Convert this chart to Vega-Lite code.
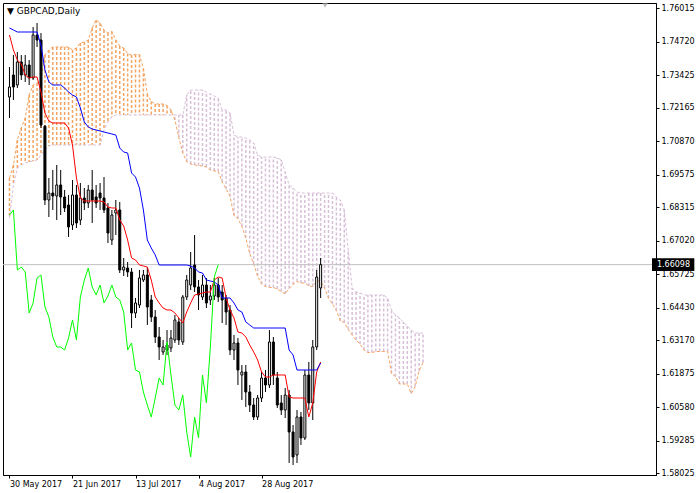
{
"$schema": "https://vega.github.io/schema/vega-lite/v6.json",
"width": 653, "height": 472,
"autosize": {"type": "none"},
"padding": {"left": 3, "top": 3, "right": 44, "bottom": 18},
"background": "white",
"config": {"view": {"stroke": "black", "strokeWidth": 1}, "axis": {"labelOverlap": false, "labelBound": false, "labelFlush": false, "grid": false, "title": null, "tickSize": 3, "tickColor": "black", "domainColor": "black", "labelColor": "black", "labelFont": "DejaVu Sans", "labelFontSize": 8, "labelPadding": 2}},
"title": {"text": "▼ GBPCAD,Daily", "anchor": "start", "frame": "group", "orient": "top", "offset": -8, "dx": 4, "dy": 9, "baseline": "middle", "fontSize": 9, "font": "DejaVu Sans", "fontWeight": "normal", "color": "black"},
"datasets": {
"bars": [
{"i":0,"o":1.72583,"h":1.73744,"l":1.71771,"c":1.72970,"t":1.74982,"k":1.75253},
{"i":1,"o":1.73434,"h":1.74208,"l":1.72467,"c":1.72970,"t":1.74402,"k":1.75175},
{"i":2,"o":1.73048,"h":1.74324,"l":1.72931,"c":1.73937,"t":1.74015,"k":1.75098},
{"i":3,"o":1.73937,"h":1.74208,"l":1.73241,"c":1.73434,"t":1.73860,"k":1.75098},
{"i":4,"o":1.73434,"h":1.74208,"l":1.73164,"c":1.73821,"t":1.73434,"k":1.75098},
{"i":5,"o":1.73821,"h":1.74015,"l":1.73048,"c":1.73318,"t":1.73318,"k":1.75098},
{"i":6,"o":1.73318,"h":1.75291,"l":1.73241,"c":1.74982,"t":1.73357,"k":1.75098},
{"i":7,"o":1.74982,"h":1.75446,"l":1.74518,"c":1.74788,"t":1.73357,"k":1.75098},
{"i":8,"o":1.74788,"h":1.75059,"l":1.71384,"c":1.71500,"t":1.72777,"k":1.74595},
{"i":9,"o":1.71450,"h":1.71500,"l":1.68405,"c":1.68598,"t":1.71964,"k":1.73628},
{"i":10,"o":1.68598,"h":1.69450,"l":1.67941,"c":1.68869,"t":1.71655,"k":1.73164},
{"i":11,"o":1.68869,"h":1.69759,"l":1.68212,"c":1.68753,"t":1.71577,"k":1.73048},
{"i":12,"o":1.68753,"h":1.69952,"l":1.67825,"c":1.69179,"t":1.71577,"k":1.73048},
{"i":13,"o":1.69179,"h":1.69759,"l":1.68018,"c":1.68714,"t":1.71577,"k":1.73048},
{"i":14,"o":1.68714,"h":1.68985,"l":1.68134,"c":1.68289,"t":1.71577,"k":1.72931},
{"i":15,"o":1.68405,"h":1.68792,"l":1.67167,"c":1.67554,"t":1.71384,"k":1.72777},
{"i":16,"o":1.67631,"h":1.69372,"l":1.67438,"c":1.68792,"t":1.70726,"k":1.72661},
{"i":17,"o":1.68792,"h":1.69179,"l":1.67515,"c":1.67709,"t":1.69450,"k":1.72583},
{"i":18,"o":1.67825,"h":1.69256,"l":1.67631,"c":1.68676,"t":1.68676,"k":1.72158},
{"i":19,"o":1.68676,"h":1.69063,"l":1.68212,"c":1.68482,"t":1.68560,"k":1.71616},
{"i":20,"o":1.68482,"h":1.69179,"l":1.68289,"c":1.68985,"t":1.68560,"k":1.71423},
{"i":21,"o":1.68985,"h":1.69759,"l":1.67709,"c":1.68598,"t":1.68560,"k":1.71345},
{"i":22,"o":1.68714,"h":1.69179,"l":1.68289,"c":1.68482,"t":1.68560,"k":1.71307},
{"i":23,"o":1.68869,"h":1.69256,"l":1.68212,"c":1.68676,"t":1.68560,"k":1.71268},
{"i":24,"o":1.68676,"h":1.69488,"l":1.68095,"c":1.68212,"t":1.68521,"k":1.71229},
{"i":25,"o":1.68289,"h":1.68482,"l":1.66935,"c":1.67322,"t":1.68328,"k":1.71190},
{"i":26,"o":1.67051,"h":1.68212,"l":1.66857,"c":1.68018,"t":1.68289,"k":1.71152},
{"i":27,"o":1.68095,"h":1.68598,"l":1.67244,"c":1.68212,"t":1.68289,"k":1.71113},
{"i":28,"o":1.68212,"h":1.68521,"l":1.65774,"c":1.65890,"t":1.67825,"k":1.70610},
{"i":29,"o":1.65890,"h":1.66354,"l":1.65658,"c":1.66006,"t":1.67593,"k":1.70455},
{"i":30,"o":1.65968,"h":1.66200,"l":1.65619,"c":1.65813,"t":1.67051,"k":1.70417},
{"i":31,"o":1.65813,"h":1.65968,"l":1.63646,"c":1.64227,"t":1.66354,"k":1.69643},
{"i":32,"o":1.64227,"h":1.64807,"l":1.64033,"c":1.64614,"t":1.66277,"k":1.69488},
{"i":33,"o":1.64536,"h":1.65890,"l":1.64420,"c":1.65581,"t":1.66084,"k":1.69063},
{"i":34,"o":1.65503,"h":1.65890,"l":1.65426,"c":1.65697,"t":1.66045,"k":1.68212},
{"i":35,"o":1.65697,"h":1.66006,"l":1.63762,"c":1.64459,"t":1.66006,"k":1.67051},
{"i":36,"o":1.64730,"h":1.64923,"l":1.63879,"c":1.64072,"t":1.65503,"k":1.66741},
{"i":37,"o":1.64072,"h":1.64343,"l":1.63066,"c":1.63298,"t":1.64846,"k":1.66471},
{"i":38,"o":1.63298,"h":1.63685,"l":1.62408,"c":1.62911,"t":1.64614,"k":1.66084},
{"i":39,"o":1.62718,"h":1.63182,"l":1.62602,"c":1.62911,"t":1.64420,"k":1.66084},
{"i":40,"o":1.62989,"h":1.63569,"l":1.62602,"c":1.62795,"t":1.64343,"k":1.66084},
{"i":41,"o":1.62873,"h":1.63569,"l":1.62718,"c":1.63259,"t":1.64343,"k":1.66084},
{"i":42,"o":1.63182,"h":1.64149,"l":1.63066,"c":1.63956,"t":1.64227,"k":1.66084},
{"i":43,"o":1.63879,"h":1.64033,"l":1.62989,"c":1.63182,"t":1.64033,"k":1.66084},
{"i":44,"o":1.63105,"h":1.64923,"l":1.62989,"c":1.64846,"t":1.63840,"k":1.66084},
{"i":45,"o":1.64846,"h":1.65697,"l":1.64730,"c":1.65503,"t":1.64265,"k":1.66084},
{"i":46,"o":1.65310,"h":1.66587,"l":1.65116,"c":1.65968,"t":1.64614,"k":1.66045},
{"i":47,"o":1.66084,"h":1.67244,"l":1.65039,"c":1.65233,"t":1.64923,"k":1.65968},
{"i":48,"o":1.65233,"h":1.65503,"l":1.64343,"c":1.64923,"t":1.64962,"k":1.65813},
{"i":49,"o":1.64846,"h":1.65697,"l":1.64730,"c":1.65310,"t":1.65000,"k":1.65774},
{"i":50,"o":1.65310,"h":1.65581,"l":1.64420,"c":1.64614,"t":1.65039,"k":1.65503},
{"i":51,"o":1.64730,"h":1.65310,"l":1.64536,"c":1.64884,"t":1.65039,"k":1.65465},
{"i":52,"o":1.64884,"h":1.65581,"l":1.64730,"c":1.65310,"t":1.65503,"k":1.65426},
{"i":53,"o":1.65310,"h":1.65581,"l":1.64652,"c":1.64846,"t":1.65619,"k":1.65310},
{"i":54,"o":1.65039,"h":1.65310,"l":1.63840,"c":1.64730,"t":1.65581,"k":1.64807},
{"i":55,"o":1.64807,"h":1.64923,"l":1.63762,"c":1.64265,"t":1.64807,"k":1.64807},
{"i":56,"o":1.64343,"h":1.64536,"l":1.62602,"c":1.62795,"t":1.64343,"k":1.64807},
{"i":57,"o":1.62795,"h":1.63376,"l":1.62408,"c":1.63066,"t":1.64033,"k":1.64614},
{"i":58,"o":1.63066,"h":1.63259,"l":1.61441,"c":1.62021,"t":1.63492,"k":1.64343},
{"i":59,"o":1.61828,"h":1.62215,"l":1.60861,"c":1.61944,"t":1.63453,"k":1.64265},
{"i":60,"o":1.61944,"h":1.62215,"l":1.60590,"c":1.61170,"t":1.63298,"k":1.63879},
{"i":61,"o":1.61170,"h":1.61441,"l":1.60397,"c":1.60667,"t":1.62989,"k":1.63762},
{"i":62,"o":1.60667,"h":1.60938,"l":1.60087,"c":1.60203,"t":1.62718,"k":1.63646},
{"i":63,"o":1.60203,"h":1.61054,"l":1.60087,"c":1.60938,"t":1.62408,"k":1.63646},
{"i":64,"o":1.60938,"h":1.61944,"l":1.60783,"c":1.61712,"t":1.61944,"k":1.63646},
{"i":65,"o":1.61712,"h":1.62021,"l":1.61170,"c":1.61441,"t":1.61751,"k":1.63646},
{"i":66,"o":1.61441,"h":1.63569,"l":1.61325,"c":1.63105,"t":1.61751,"k":1.63646},
{"i":67,"o":1.63105,"h":1.63298,"l":1.61441,"c":1.61828,"t":1.61828,"k":1.63646},
{"i":68,"o":1.61712,"h":1.61944,"l":1.60551,"c":1.60667,"t":1.61828,"k":1.63646},
{"i":69,"o":1.60745,"h":1.61054,"l":1.60280,"c":1.60474,"t":1.61828,"k":1.63646},
{"i":70,"o":1.60474,"h":1.61325,"l":1.60164,"c":1.61054,"t":1.61828,"k":1.63646},
{"i":71,"o":1.61054,"h":1.61248,"l":1.58423,"c":1.59623,"t":1.60977,"k":1.62795},
{"i":72,"o":1.59623,"h":1.59894,"l":1.58346,"c":1.58656,"t":1.60938,"k":1.62602},
{"i":73,"o":1.58733,"h":1.60474,"l":1.58423,"c":1.60203,"t":1.60938,"k":1.62021},
{"i":74,"o":1.60203,"h":1.60397,"l":1.59120,"c":1.59391,"t":1.60938,"k":1.62021},
{"i":75,"o":1.59391,"h":1.62021,"l":1.59313,"c":1.61828,"t":1.60938,"k":1.62021},
{"i":76,"o":1.61828,"h":1.62331,"l":1.60474,"c":1.60745,"t":1.60203,"k":1.62021},
{"i":77,"o":1.60745,"h":1.63182,"l":1.60087,"c":1.62911,"t":1.60745,"k":1.62021},
{"i":78,"o":1.62911,"h":1.65890,"l":1.62795,"c":1.65619,"t":1.61944,"k":1.62021},
{"i":79,"o":1.65194,"h":1.66354,"l":1.64807,"c":1.66098,"t":1.62331,"k":1.62292}
],
"chikou": [
{"i":0,"v":1.68018},{"i":1,"v":1.68212},{"i":2,"v":1.65890},{"i":3,"v":1.66006},{"i":4,"v":1.65813},
{"i":5,"v":1.64227},{"i":6,"v":1.64614},{"i":7,"v":1.65581},{"i":8,"v":1.65697},{"i":9,"v":1.64459},
{"i":10,"v":1.64072},{"i":11,"v":1.63298},{"i":12,"v":1.62911},{"i":13,"v":1.62911},{"i":14,"v":1.62795},
{"i":15,"v":1.63259},{"i":16,"v":1.63956},{"i":17,"v":1.63182},{"i":18,"v":1.64846},{"i":19,"v":1.65503},
{"i":20,"v":1.65968},{"i":21,"v":1.65233},{"i":22,"v":1.64923},{"i":23,"v":1.65310},{"i":24,"v":1.64614},
{"i":25,"v":1.64884},{"i":26,"v":1.65310},{"i":27,"v":1.64846},{"i":28,"v":1.64730},{"i":29,"v":1.64265},
{"i":30,"v":1.62795},{"i":31,"v":1.63066},{"i":32,"v":1.62021},{"i":33,"v":1.61944},{"i":34,"v":1.61170},
{"i":35,"v":1.60667},{"i":36,"v":1.60203},{"i":37,"v":1.60938},{"i":38,"v":1.61712},{"i":39,"v":1.61441},
{"i":40,"v":1.63105},{"i":41,"v":1.61828},{"i":42,"v":1.60667},{"i":43,"v":1.60474},{"i":44,"v":1.61054},
{"i":45,"v":1.59623},{"i":46,"v":1.58656},{"i":47,"v":1.60203},{"i":48,"v":1.59391},{"i":49,"v":1.61828},
{"i":50,"v":1.60745},{"i":51,"v":1.62911},{"i":52,"v":1.65619},{"i":53,"v":1.66098}
],
"cloud": [
{"i":0,"a":1.69450,"b":1.67902},{"i":1,"a":1.69952,"b":1.69179},{"i":2,"a":1.70920,"b":1.69836},
{"i":3,"a":1.71384,"b":1.69952},{"i":4,"a":1.71771,"b":1.70030},{"i":5,"a":1.72661,"b":1.70069},
{"i":6,"a":1.73048,"b":1.70107},{"i":7,"a":1.73125,"b":1.70146},{"i":8,"a":1.73241,"b":1.70339},
{"i":9,"a":1.74208,"b":1.70533},{"i":10,"a":1.74402,"b":1.70688},{"i":11,"a":1.74518,"b":1.70726},
{"i":12,"a":1.74518,"b":1.70726},{"i":13,"a":1.74518,"b":1.70726},{"i":14,"a":1.74518,"b":1.70726},
{"i":15,"a":1.74518,"b":1.70726},{"i":16,"a":1.74402,"b":1.70726},{"i":17,"a":1.74479,"b":1.70726},
{"i":18,"a":1.74672,"b":1.70726},{"i":19,"a":1.74711,"b":1.70726},{"i":20,"a":1.74788,"b":1.70726},
{"i":21,"a":1.75253,"b":1.70726},{"i":22,"a":1.75562,"b":1.70726},{"i":23,"a":1.75446,"b":1.70726},
{"i":24,"a":1.75175,"b":1.71307},{"i":25,"a":1.75059,"b":1.71616},{"i":26,"a":1.75118,"b":1.71810},
{"i":27,"a":1.74789,"b":1.71887},{"i":28,"a":1.74557,"b":1.71887},{"i":29,"a":1.74479,"b":1.71887},
{"i":30,"a":1.74266,"b":1.71887},{"i":31,"a":1.74208,"b":1.71887},{"i":32,"a":1.74228,"b":1.71887},
{"i":33,"a":1.74228,"b":1.71887},{"i":34,"a":1.73686,"b":1.71887},{"i":35,"a":1.72700,"b":1.71887},
{"i":36,"a":1.72410,"b":1.71887},{"i":37,"a":1.72313,"b":1.71887},{"i":38,"a":1.72313,"b":1.71887},
{"i":39,"a":1.72313,"b":1.71887},{"i":40,"a":1.72254,"b":1.71887},{"i":41,"a":1.72081,"b":1.71887},
{"i":42,"a":1.71694,"b":1.71887},{"i":43,"a":1.71017,"b":1.71887},{"i":44,"a":1.70417,"b":1.71887},
{"i":45,"a":1.70088,"b":1.72661},{"i":46,"a":1.69992,"b":1.72854},{"i":47,"a":1.69953,"b":1.72854},
{"i":48,"a":1.69934,"b":1.72854},{"i":49,"a":1.69914,"b":1.72854},{"i":50,"a":1.69875,"b":1.72777},
{"i":51,"a":1.69759,"b":1.72699},{"i":52,"a":1.69721,"b":1.72622},{"i":53,"a":1.69701,"b":1.72545},
{"i":54,"a":1.69300,"b":1.72080},{"i":55,"a":1.69024,"b":1.72080},{"i":56,"a":1.68734,"b":1.71964},
{"i":57,"a":1.67999,"b":1.71113},{"i":58,"a":1.67883,"b":1.71036},{"i":59,"a":1.67574,"b":1.71036},
{"i":60,"a":1.67129,"b":1.70997},{"i":61,"a":1.66529,"b":1.70920},{"i":62,"a":1.66122,"b":1.70804},
{"i":63,"a":1.65659,"b":1.70339},{"i":64,"a":1.65349,"b":1.70262},{"i":65,"a":1.65252,"b":1.70262},
{"i":66,"a":1.65214,"b":1.70262},{"i":67,"a":1.65214,"b":1.70262},{"i":68,"a":1.65156,"b":1.70223},
{"i":69,"a":1.65059,"b":1.70146},{"i":70,"a":1.64962,"b":1.69682},{"i":71,"a":1.65175,"b":1.69179},
{"i":72,"a":1.65330,"b":1.69063},{"i":73,"a":1.65446,"b":1.68908},{"i":74,"a":1.65388,"b":1.68869},
{"i":75,"a":1.65387,"b":1.68869},{"i":76,"a":1.65271,"b":1.68869},{"i":77,"a":1.65252,"b":1.68869},
{"i":78,"a":1.65465,"b":1.68869},{"i":79,"a":1.65465,"b":1.68869},{"i":80,"a":1.65194,"b":1.68869},
{"i":81,"a":1.64807,"b":1.68869},{"i":82,"a":1.64575,"b":1.68869},{"i":83,"a":1.64324,"b":1.68714},
{"i":84,"a":1.63918,"b":1.68598},{"i":85,"a":1.63859,"b":1.68212},{"i":86,"a":1.63589,"b":1.66664},
{"i":87,"a":1.63376,"b":1.65194},{"i":88,"a":1.63182,"b":1.65039},{"i":89,"a":1.63027,"b":1.65000},
{"i":90,"a":1.62795,"b":1.64923},{"i":91,"a":1.62699,"b":1.64923},{"i":92,"a":1.62699,"b":1.64923},
{"i":93,"a":1.62737,"b":1.64923},{"i":94,"a":1.62737,"b":1.64923},{"i":95,"a":1.62737,"b":1.64923},
{"i":96,"a":1.62737,"b":1.64807},{"i":97,"a":1.61886,"b":1.64343},{"i":98,"a":1.61770,"b":1.64149},
{"i":99,"a":1.61480,"b":1.64033},{"i":100,"a":1.61480,"b":1.63879},{"i":101,"a":1.61480,"b":1.63724},
{"i":102,"a":1.61112,"b":1.63569},{"i":103,"a":1.61383,"b":1.63453},{"i":104,"a":1.61983,"b":1.63453},
{"i":105,"a":1.62312,"b":1.63453}
],
"price": [{"p": 1.66098, "hi": 1.66349, "lo": 1.65847}]
},
"layer": [
{"data": {"name": "cloud"},
 "mark": {"type": "rule", "strokeWidth": 1.5, "strokeDash": [3, 2]},
 "encoding": {
  "x": {"field": "i", "type": "quantitative", "scale": {"domain": [-0.375, 162.875], "nice": false, "zero": false},
        "axis": {"values": [0, 16, 32, 48, 64], "labelExpr": "datum.value == 0 ? '30 May 2017' : datum.value == 16 ? '21 Jun 2017' : datum.value == 32 ? '13 Jul 2017' : datum.value == 48 ? '4 Aug 2017' : '28 Aug 2017'", "labelAlign": "left", "labelOverlap": false}},
  "y": {"field": "a", "type": "quantitative", "scale": {"domain": [1.57959, 1.76220], "nice": false, "zero": false},
        "axis": {"orient": "right", "values": [1.58025, 1.59285, 1.60580, 1.61875, 1.63170, 1.64430, 1.65725, 1.67020, 1.68315, 1.69575, 1.70870, 1.72165, 1.73425, 1.74720, 1.76015], "format": ".5f", "labelOverlap": false}},
  "y2": {"field": "b"},
  "color": {"condition": {"test": "datum.a > datum.b", "value": "#F4A460"}, "value": "#D8BFD8"}
 }},
{"data": {"name": "cloud"},
 "mark": {"type": "line", "color": "#F4A460", "strokeWidth": 1, "strokeDash": [3, 2]},
 "encoding": {
  "x": {"field": "i", "type": "quantitative", "axis": {"values": [0, 16, 32, 48, 64], "labelExpr": "datum.value == 0 ? '30 May 2017' : datum.value == 16 ? '21 Jun 2017' : datum.value == 32 ? '13 Jul 2017' : datum.value == 48 ? '4 Aug 2017' : '28 Aug 2017'", "labelAlign": "left", "labelOverlap": false}},
  "y": {"field": "a", "type": "quantitative", "axis": {"orient": "right", "values": [1.58025, 1.59285, 1.60580, 1.61875, 1.63170, 1.64430, 1.65725, 1.67020, 1.68315, 1.69575, 1.70870, 1.72165, 1.73425, 1.74720, 1.76015], "format": ".5f", "labelOverlap": false}}
 }},
{"data": {"name": "cloud"},
 "mark": {"type": "line", "color": "#D8BFD8", "strokeWidth": 1, "strokeDash": [3, 2]},
 "encoding": {
  "x": {"field": "i", "type": "quantitative", "axis": {"values": [0, 16, 32, 48, 64], "labelExpr": "datum.value == 0 ? '30 May 2017' : datum.value == 16 ? '21 Jun 2017' : datum.value == 32 ? '13 Jul 2017' : datum.value == 48 ? '4 Aug 2017' : '28 Aug 2017'", "labelAlign": "left", "labelOverlap": false}},
  "y": {"field": "b", "type": "quantitative", "axis": {"orient": "right", "values": [1.58025, 1.59285, 1.60580, 1.61875, 1.63170, 1.64430, 1.65725, 1.67020, 1.68315, 1.69575, 1.70870, 1.72165, 1.73425, 1.74720, 1.76015], "format": ".5f", "labelOverlap": false}}
 }},
{"data": {"name": "price"},
 "mark": {"type": "rule", "color": "#C0C0C0", "strokeWidth": 1},
 "encoding": {
  "y": {"field": "p", "type": "quantitative", "axis": {"orient": "right", "values": [1.58025, 1.59285, 1.60580, 1.61875, 1.63170, 1.64430, 1.65725, 1.67020, 1.68315, 1.69575, 1.70870, 1.72165, 1.73425, 1.74720, 1.76015], "format": ".5f", "labelOverlap": false}}
 }},
{"data": {"name": "bars"},
 "mark": {"type": "rule", "color": "black", "strokeWidth": 1},
 "encoding": {
  "x": {"field": "i", "type": "quantitative", "axis": {"values": [0, 16, 32, 48, 64], "labelExpr": "datum.value == 0 ? '30 May 2017' : datum.value == 16 ? '21 Jun 2017' : datum.value == 32 ? '13 Jul 2017' : datum.value == 48 ? '4 Aug 2017' : '28 Aug 2017'", "labelAlign": "left", "labelOverlap": false}},
  "y": {"field": "l", "type": "quantitative", "axis": {"orient": "right", "values": [1.58025, 1.59285, 1.60580, 1.61875, 1.63170, 1.64430, 1.65725, 1.67020, 1.68315, 1.69575, 1.70870, 1.72165, 1.73425, 1.74720, 1.76015], "format": ".5f", "labelOverlap": false}},
  "y2": {"field": "h"}
 }},
{"data": {"name": "bars"},
 "mark": {"type": "bar", "width": 2, "stroke": "black", "strokeWidth": 1},
 "encoding": {
  "x": {"field": "i", "type": "quantitative", "axis": {"values": [0, 16, 32, 48, 64], "labelExpr": "datum.value == 0 ? '30 May 2017' : datum.value == 16 ? '21 Jun 2017' : datum.value == 32 ? '13 Jul 2017' : datum.value == 48 ? '4 Aug 2017' : '28 Aug 2017'", "labelAlign": "left", "labelOverlap": false}},
  "y": {"field": "o", "type": "quantitative", "axis": {"orient": "right", "values": [1.58025, 1.59285, 1.60580, 1.61875, 1.63170, 1.64430, 1.65725, 1.67020, 1.68315, 1.69575, 1.70870, 1.72165, 1.73425, 1.74720, 1.76015], "format": ".5f", "labelOverlap": false}},
  "y2": {"field": "c"},
  "color": {"condition": {"test": "datum.c >= datum.o", "value": "white"}, "value": "black"}
 }},
{"data": {"name": "bars"},
 "mark": {"type": "line", "color": "#FF0000", "strokeWidth": 1},
 "encoding": {
  "x": {"field": "i", "type": "quantitative", "axis": {"values": [0, 16, 32, 48, 64], "labelExpr": "datum.value == 0 ? '30 May 2017' : datum.value == 16 ? '21 Jun 2017' : datum.value == 32 ? '13 Jul 2017' : datum.value == 48 ? '4 Aug 2017' : '28 Aug 2017'", "labelAlign": "left", "labelOverlap": false}},
  "y": {"field": "t", "type": "quantitative", "axis": {"orient": "right", "values": [1.58025, 1.59285, 1.60580, 1.61875, 1.63170, 1.64430, 1.65725, 1.67020, 1.68315, 1.69575, 1.70870, 1.72165, 1.73425, 1.74720, 1.76015], "format": ".5f", "labelOverlap": false}}
 }},
{"data": {"name": "bars"},
 "mark": {"type": "line", "color": "#0000FF", "strokeWidth": 1},
 "encoding": {
  "x": {"field": "i", "type": "quantitative", "axis": {"values": [0, 16, 32, 48, 64], "labelExpr": "datum.value == 0 ? '30 May 2017' : datum.value == 16 ? '21 Jun 2017' : datum.value == 32 ? '13 Jul 2017' : datum.value == 48 ? '4 Aug 2017' : '28 Aug 2017'", "labelAlign": "left", "labelOverlap": false}},
  "y": {"field": "k", "type": "quantitative", "axis": {"orient": "right", "values": [1.58025, 1.59285, 1.60580, 1.61875, 1.63170, 1.64430, 1.65725, 1.67020, 1.68315, 1.69575, 1.70870, 1.72165, 1.73425, 1.74720, 1.76015], "format": ".5f", "labelOverlap": false}}
 }},
{"data": {"name": "chikou"},
 "mark": {"type": "line", "color": "#00FF00", "strokeWidth": 1},
 "encoding": {
  "x": {"field": "i", "type": "quantitative", "axis": {"values": [0, 16, 32, 48, 64], "labelExpr": "datum.value == 0 ? '30 May 2017' : datum.value == 16 ? '21 Jun 2017' : datum.value == 32 ? '13 Jul 2017' : datum.value == 48 ? '4 Aug 2017' : '28 Aug 2017'", "labelAlign": "left", "labelOverlap": false}},
  "y": {"field": "v", "type": "quantitative", "axis": {"orient": "right", "values": [1.58025, 1.59285, 1.60580, 1.61875, 1.63170, 1.64430, 1.65725, 1.67020, 1.68315, 1.69575, 1.70870, 1.72165, 1.73425, 1.74720, 1.76015], "format": ".5f", "labelOverlap": false}}
 }},
{"data": {"name": "price"},
 "mark": {"type": "rect", "color": "black"},
 "encoding": {
  "x": {"datum": 163.125, "type": "quantitative", "axis": {"values": [0, 16, 32, 48, 64], "labelExpr": "datum.value == 0 ? '30 May 2017' : datum.value == 16 ? '21 Jun 2017' : datum.value == 32 ? '13 Jul 2017' : datum.value == 48 ? '4 Aug 2017' : '28 Aug 2017'", "labelAlign": "left", "labelOverlap": false}},
  "x2": {"datum": 173.875},
  "y": {"field": "hi", "type": "quantitative", "axis": {"orient": "right", "values": [1.58025, 1.59285, 1.60580, 1.61875, 1.63170, 1.64430, 1.65725, 1.67020, 1.68315, 1.69575, 1.70870, 1.72165, 1.73425, 1.74720, 1.76015], "format": ".5f", "labelOverlap": false}},
  "y2": {"field": "lo"}
 }},
{"data": {"name": "price"},
 "mark": {"type": "text", "color": "white", "align": "left", "baseline": "middle", "font": "DejaVu Sans", "fontSize": 8},
 "encoding": {
  "x": {"datum": 164.375, "type": "quantitative", "axis": {"values": [0, 16, 32, 48, 64], "labelExpr": "datum.value == 0 ? '30 May 2017' : datum.value == 16 ? '21 Jun 2017' : datum.value == 32 ? '13 Jul 2017' : datum.value == 48 ? '4 Aug 2017' : '28 Aug 2017'", "labelAlign": "left", "labelOverlap": false}},
  "y": {"field": "p", "type": "quantitative", "axis": {"orient": "right", "values": [1.58025, 1.59285, 1.60580, 1.61875, 1.63170, 1.64430, 1.65725, 1.67020, 1.68315, 1.69575, 1.70870, 1.72165, 1.73425, 1.74720, 1.76015], "format": ".5f", "labelOverlap": false}},
  "text": {"field": "p", "type": "quantitative", "format": ".5f"}
 }},
{"data": {"name": "price"},
 "mark": {"type": "point", "shape": "triangle-down", "filled": true, "color": "#A0A0A0", "size": 30},
 "encoding": {
  "x": {"datum": 80.125, "type": "quantitative", "axis": {"values": [0, 16, 32, 48, 64], "labelExpr": "datum.value == 0 ? '30 May 2017' : datum.value == 16 ? '21 Jun 2017' : datum.value == 32 ? '13 Jul 2017' : datum.value == 48 ? '4 Aug 2017' : '28 Aug 2017'", "labelAlign": "left", "labelOverlap": false}},
  "y": {"datum": 1.76125, "type": "quantitative", "axis": {"orient": "right", "values": [1.58025, 1.59285, 1.60580, 1.61875, 1.63170, 1.64430, 1.65725, 1.67020, 1.68315, 1.69575, 1.70870, 1.72165, 1.73425, 1.74720, 1.76015], "format": ".5f", "labelOverlap": false}}
 }}
]
}
